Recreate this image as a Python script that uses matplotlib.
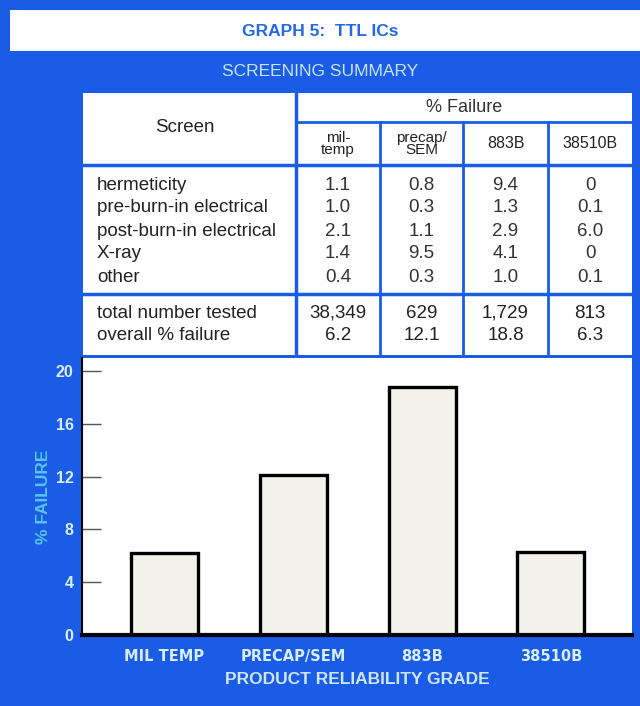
import matplotlib
matplotlib.use("Agg")
import matplotlib.pyplot as plt
from matplotlib.patches import Rectangle

plt.rcParams['font.family'] = ['Liberation Sans', 'DejaVu Sans']

# screening summary table
screens = ["hermeticity", "pre-burn-in electrical", "post-burn-in electrical", "X-ray", "other"]
grade_heads = ["mil-\ntemp", "precap/\nSEM", "883B", "38510B"]
fail_mil = ["1.1", "1.0", "2.1", "1.4", "0.4"]
fail_precap = ["0.8", "0.3", "1.1", "9.5", "0.3"]
fail_883 = ["9.4", "1.3", "2.9", "4.1", "1.0"]
fail_38510 = ["0", "0.1", "6.0", "0", "0.1"]
total_tested = ["38,349", "629", "1,729", "813"]
overall_fail = [6.2, 12.1, 18.8, 6.3]

# bar chart
grades = ["MIL TEMP", "PRECAP/SEM", "883B", "38510B"]
yticks = [0, 4, 8, 12, 16, 20]

BLUE = "#1a5ce6"
W, H = 640, 706

fig = plt.figure(figsize=(W / 100, H / 100), dpi=100, facecolor=BLUE)


def box(x0, y0, x1, y1):
    # pixel box (from top-left) -> figure fraction rect
    return [x0 / W, 1 - y1 / H, (x1 - x0) / W, (y1 - y0) / H]


# title strip
fig.patches.append(Rectangle((10 / W, 1 - 51 / H), 1, 41 / H, transform=fig.transFigure,
                             facecolor="white", edgecolor="none"))
fig.text(0.5, 1 - 31 / H, "GRAPH 5:  TTL ICs", color="#2368e4", fontsize=12.5,
         fontweight="bold", ha="center", va="center")
fig.text(0.5, 1 - 72 / H, "SCREENING SUMMARY", color="#c9e4f7", fontsize=12.5,
         ha="center", va="center")

# table drawn in local pixel units
tx0, ty0, tx1, ty1 = 83, 93, 632, 355
ax_t = fig.add_axes(box(tx0, ty0, tx1, ty1))
ax_t.set_xlim(0, tx1 - tx0)
ax_t.set_ylim(ty1 - ty0, 0)
ax_t.axis("off")
ax_t.add_patch(Rectangle((0, 0), tx1 - tx0, ty1 - ty0, facecolor="white", edgecolor="none"))

col_edges = [0, 213, 297, 380, 465, 549]
ax_t.plot([0, 549], [72, 72], color=BLUE, lw=2.5)
ax_t.plot([0, 549], [201, 201], color=BLUE, lw=2.5)
ax_t.plot([213, 549], [29, 29], color=BLUE, lw=2)
ax_t.plot([213, 213], [0, 262], color=BLUE, lw=2.5)
for xe in col_edges[2:-1]:
    ax_t.plot([xe, xe], [29, 262], color=BLUE, lw=2)

fs = 13.5
ax_t.text(102, 34, "Screen", fontsize=13.5, ha="center", va="center", color="#222222")
ax_t.text(381, 15, "% Failure", fontsize=13, ha="center", va="center", color="#333333")
centers = [(col_edges[i] + col_edges[i + 1]) / 2 for i in range(1, 5)]
for cx, head in zip(centers, grade_heads):
    ax_t.text(cx, 51, head, fontsize=11 if "\n" in head else 11.5, ha="center", va="center",
              color="#222222", linespacing=0.9)

row_y = [92, 115, 138, 161, 184]
cols = [fail_mil, fail_precap, fail_883, fail_38510]
for i, name in enumerate(screens):
    ax_t.text(14, row_y[i], name, fontsize=fs, ha="left", va="center", color="#222222")
    for cx, vals in zip(centers, cols):
        ax_t.text(cx, row_y[i], vals[i], fontsize=fs, ha="center", va="center", color="#333333")

ax_t.text(14, 220, "total number tested", fontsize=fs, ha="left", va="center", color="#222222")
ax_t.text(14, 242, "overall % failure", fontsize=fs, ha="left", va="center", color="#222222")
for cx, n, f in zip(centers, total_tested, overall_fail):
    ax_t.text(cx, 220, n, fontsize=fs, ha="center", va="center", color="#222222")
    ax_t.text(cx, 242, f"{f:.1f}", fontsize=fs, ha="center", va="center", color="#222222")

# bar chart
ax = fig.add_axes(box(82, 358, 632, 635))
ax.set_facecolor("white")
xs = list(range(len(grades)))
ax.bar(xs, overall_fail, width=0.52, color="#f3f2ea", edgecolor="black", linewidth=2.4)
ax.set_xlim(-0.64, 3.63)
ax.set_ylim(0, 21)
ax.set_yticks(yticks)
ax.set_xticks(xs)
ax.set_xticklabels(grades, family=['DejaVu Sans'], fontweight="bold",
                   fontsize=10.5, color="#d8eefa")
ax.tick_params(axis="y", direction="in", length=14, width=1, color="#555555",
               labelcolor="#d8eefa", labelsize=11.5, pad=6)
for lab in ax.get_yticklabels():
    lab.set_fontweight("bold")
ax.tick_params(axis="x", length=0, pad=10)
for side in ["top", "right"]:
    ax.spines[side].set_visible(False)
ax.spines["left"].set_linewidth(1.5)
ax.spines["bottom"].set_linewidth(3)
ax.set_xlabel("PRODUCT RELIABILITY GRADE", color="#cfe6f7", fontsize=12.5,
              fontweight="bold", labelpad=6)
ax.set_ylabel("% FAILURE", color="#58c4f0", fontsize=12.5, fontweight="bold", labelpad=3)

fig.savefig("out.png", dpi=100, facecolor=BLUE)
